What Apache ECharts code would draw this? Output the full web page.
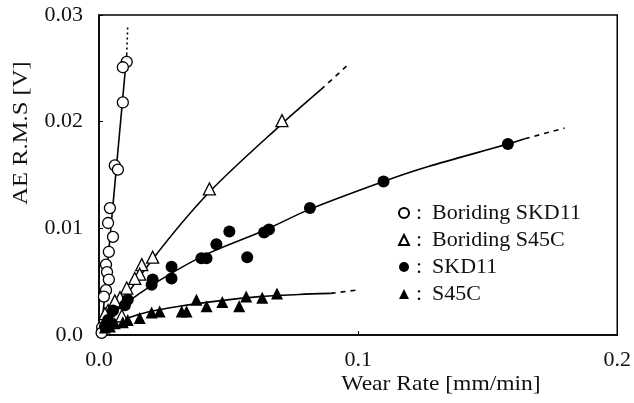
<!DOCTYPE html>
<html>
<head>
<meta charset="utf-8">
<script src="https://cdn.jsdelivr.net/npm/echarts@6/dist/echarts.min.js"></script>
<style>
  html, body { margin: 0; padding: 0; background: #fff; }
  #chart { width: 634px; height: 403px; }
</style>
</head>
<body>
<div id="chart"></div>
<script>
// measured points [wear rate, AE rms]
const boridingSKD11 = [
  [0.0107, 0.0256], [0.0092, 0.0251], [0.0092, 0.0218], [0.0061, 0.0159], [0.0073, 0.0155],
  [0.0042, 0.0119], [0.0035, 0.0105], [0.0054, 0.0092], [0.0038, 0.0078], [0.0027, 0.0066],
  [0.0031, 0.0059], [0.0038, 0.0052], [0.0027, 0.0042], [0.0019, 0.0036], [0.0012, 0.0007],
  [0.0010, 0.0002]
];
const boridingS45C = [
  [0.0706, 0.0201], [0.0426, 0.0137], [0.0207, 0.0073], [0.0165, 0.0066], [0.0157, 0.0057],
  [0.0138, 0.0053], [0.0107, 0.0044], [0.0081, 0.0035], [0.0061, 0.0032], [0.0035, 0.0023],
  [0.0023, 0.0020], [0.0088, 0.0018]
];
const skd11 = [
  [0.1578, 0.0179], [0.1098, 0.0144], [0.0814, 0.0119], [0.0637, 0.0096], [0.0656, 0.0099],
  [0.0503, 0.0097], [0.0453, 0.0085], [0.0572, 0.0073], [0.0395, 0.0072], [0.0415, 0.0072],
  [0.0280, 0.0064], [0.0280, 0.0053], [0.0207, 0.0052], [0.0203, 0.0047], [0.0111, 0.0033],
  [0.0100, 0.0028], [0.0054, 0.0023], [0.0035, 0.0014], [0.0023, 0.0008]
];
const s45c = [
  [0.0687, 0.0039], [0.0630, 0.0035], [0.0568, 0.0036], [0.0541, 0.0027], [0.0476, 0.0031],
  [0.0415, 0.0027], [0.0376, 0.0033], [0.0338, 0.0022], [0.0319, 0.0022], [0.0234, 0.0022],
  [0.0203, 0.0021], [0.0157, 0.0016], [0.0111, 0.0014], [0.0092, 0.0012], [0.0061, 0.0011],
  [0.0042, 0.0008], [0.0023, 0.0007]
];

// fitted curves (solid part + dashed extension)
const boridingSKD11Fit = [[0.0008, 0], [0.0107, 0.0263]];
const boridingSKD11Ext = [[0.0107, 0.0263], [0.0111, 0.0291]];
const boridingS45CFit = [[0, 0], [0.0207, 0.0071], [0.0426, 0.0134], [0.0706, 0.0198], [0.0856, 0.0230]];
const boridingS45CExt = [[0.0856, 0.0230], [0.0955, 0.0252]];
const skd11Fit = [
  [0, 0], [0.0061, 0.0021], [0.0157, 0.0039], [0.0280, 0.0058], [0.0426, 0.0077],
  [0.0637, 0.0098], [0.0814, 0.0118], [0.1098, 0.0144], [0.1271, 0.0158], [0.1578, 0.0179],
  [0.1643, 0.0184]
];
const skd11Ext = [[0.1643, 0.0184], [0.1797, 0.0194]];
const s45cFit = [
  [0, 0], [0.0035, 0.0008], [0.0100, 0.0015], [0.0196, 0.0022], [0.0311, 0.0027],
  [0.0464, 0.0032], [0.0618, 0.0036], [0.0772, 0.0038], [0.0894, 0.0039]
];
const s45cExt = [[0.0894, 0.0039], [0.0990, 0.0042]];

const xTicks = ['0.0', '0.1', '0.2'];
const yTicks = ['0.0', '0.01', '0.02', '0.03'];

const FONT = 'Liberation Serif';

const lineSeries = (data, type) => ({
  type: 'line',
  data: data,
  symbol: 'none',
  smooth: type === 'solid' ? 0.3 : false,
  silent: true,
  z: 1,
  lineStyle: { color: '#000', width: 1.6, type: type }
});

const pointSeries = (name, data, symbol, filled) => ({
  name: name,
  type: 'scatter',
  data: data,
  symbol: symbol,
  symbolSize: symbol === 'triangle' ? 12 : (filled ? 12 : 11),
  z: 3,
  itemStyle: {
    color: filled ? '#000' : '#fff',
    borderColor: '#000',
    borderWidth: filled ? 0 : 1.3,
    opacity: 1
  }
});

const chart = echarts.init(document.getElementById('chart'));
chart.setOption({
  animation: false,
  backgroundColor: '#fff',
  grid: {
    left: 99, right: 14, top: 15, bottom: 68,
    show: true, borderColor: '#000', borderWidth: 1.5
  },
  xAxis: {
    type: 'value', min: 0, max: 0.2, interval: 0.1,
    axisLine: { show: true, lineStyle: { color: '#000', width: 1.5 } },
    axisTick: { show: true, inside: true, length: 4, lineStyle: { color: '#000' } },
    splitLine: { show: false },
    axisLabel: {
      margin: 14, color: '#111', fontFamily: FONT, fontSize: 22,
      formatter: (v) => xTicks[Math.round(v / 0.1)]
    }
  },
  yAxis: {
    type: 'value', min: 0, max: 0.03, interval: 0.01,
    axisLine: { show: true, lineStyle: { color: '#000', width: 1.5 } },
    axisTick: { show: true, inside: true, length: 4, lineStyle: { color: '#000' } },
    splitLine: { show: false },
    axisLabel: {
      margin: 16, color: '#111', fontFamily: FONT, fontSize: 22,
      formatter: (v) => yTicks[Math.round(v / 0.01)]
    }
  },
  legend: {
    orient: 'vertical',
    left: 393, top: 197,
    itemWidth: 10, itemHeight: 10, itemGap: 5,
    data: ['Boriding SKD11', 'Boriding S45C', 'SKD11', 'S45C'],
    formatter: (name) => ': \u2009' + name,
    textStyle: { fontFamily: FONT, fontSize: 22, color: '#111', padding: [0, 0, 0, 2] }
  },
  graphic: [
    {
      type: 'text', x: 21, y: 133, rotation: Math.PI / 2, scaleX: 1.17,
      style: {
        text: 'AE R.M.S [V]', font: '21px "Liberation Serif"', fill: '#111',
        textAlign: 'center', textVerticalAlign: 'middle'
      }
    },
    {
      type: 'text', x: 441, y: 384, scaleX: 1.12,
      style: {
        text: 'Wear Rate [mm/min]', font: '21px "Liberation Serif"', fill: '#111',
        textAlign: 'center', textVerticalAlign: 'middle'
      }
    }
  ],
  series: [
    lineSeries(boridingSKD11Fit, 'solid'),
    lineSeries(boridingSKD11Ext, [2, 3]),
    lineSeries(boridingS45CFit, 'solid'),
    lineSeries(boridingS45CExt, [5, 5]),
    lineSeries(skd11Fit, 'solid'),
    lineSeries(skd11Ext, [5, 5]),
    lineSeries(s45cFit, 'solid'),
    lineSeries(s45cExt, [5, 5]),
    pointSeries('Boriding SKD11', boridingSKD11, 'circle', false),
    pointSeries('Boriding S45C', boridingS45C, 'triangle', false),
    pointSeries('SKD11', skd11, 'circle', true),
    pointSeries('S45C', s45c, 'triangle', true)
  ]
});
</script>
</body>
</html>
